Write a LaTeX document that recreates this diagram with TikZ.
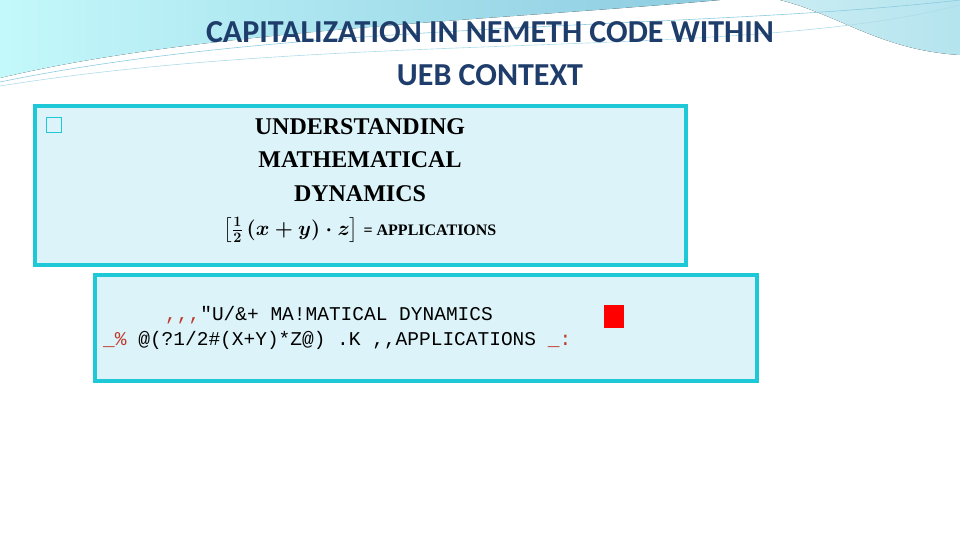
\documentclass[tikz,border=0pt]{standalone}
\usepackage{amsmath}
\usepackage{fontspec}
\setmainfont{Liberation Serif}
\newfontfamily\titlefont{Carlito}
\setmonofont{Liberation Mono}
\usetikzlibrary{positioning}
\definecolor{ttlblue}{HTML}{1F3D6B}
\definecolor{brdcyan}{HTML}{1FC8D6}
\definecolor{boxfill}{HTML}{DCF4F9}
\definecolor{skyA}{HTML}{8CCBE0}
\definecolor{skyB}{HTML}{B4E4EE}
\definecolor{brlred}{HTML}{C0392B}

\begin{document}
\begin{tikzpicture}[x=1pt, y=-1pt,
    panel/.style={draw=brdcyan, line width=4pt, fill=boxfill},
    ttl/.style={font=\titlefont\bfseries\fontsize{32}{34}\selectfont, text=ttlblue},
    bold/.style={font=\bfseries\fontsize{24}{26}\selectfont, inner sep=0pt},
    brl/.style={font=\ttfamily\fontsize{19.5}{21}\selectfont, inner sep=0pt, anchor=base west}
  ]
\useasboundingbox (0,0) rectangle (960,540);

% Background swooshes
\fill[left color=skyB!60!cyan!40, right color=skyA] (0,0) -- (720,0)
  .. controls (500,20) and (200,30) .. (0,78) -- cycle;
\fill[left color=skyB!70!white, right color=skyB] (780,0) -- (960,0) -- (960,55)
  .. controls (880,50) and (840,15) .. (780,0) -- cycle;
\draw[skyA, line width=0.6pt] (0,82) .. controls (300,20) and (700,30) .. (960,0);
\draw[skyA!70!white, line width=0.6pt] (0,86) .. controls (350,30) and (750,60) .. (960,5);

% Title
\node[ttl] (t1) at (490,32) {CAPITALIZATION IN NEMETH CODE WITHIN};
\node[ttl] (t2) at (490,75) {UEB CONTEXT};

% Printed panel
\draw[panel] (35,106) rectangle (686,265);
\node[draw=brdcyan, line width=1pt, minimum size=15pt, inner sep=0pt] (bul) at (54,125) {};
\node[bold] (l1) at (360,127) {UNDERSTANDING};
\node[bold] (l2) at (360,160) {MATHEMATICAL};
\node[bold] (l3) at (360,194) {DYNAMICS};
\node[inner sep=0pt, font=\fontsize{20}{24}\selectfont] (eqn) at (360,230)
  {$\boldsymbol{\left[\frac{1}{2}\,(x+y)\cdot z\right]}$ \textbf{\fontsize{16}{18}\selectfont = APPLICATIONS}};

% Braille panel
\draw[panel] (95,275) rectangle (757,381);
\node[brl] (b1) at (165,320) {\textcolor{brlred}{,,,}"U/\&+ MA!MATICAL DYNAMICS};
\node[brl] (b2) at (103,345) {\textcolor{brlred}{\_\%} @(?1/2\#(X+Y)*Z@) .K ,,APPLICATIONS \textcolor{brlred}{\_:}};
\fill[red] (604,305) rectangle (624,328);

\end{tikzpicture}
\end{document}
